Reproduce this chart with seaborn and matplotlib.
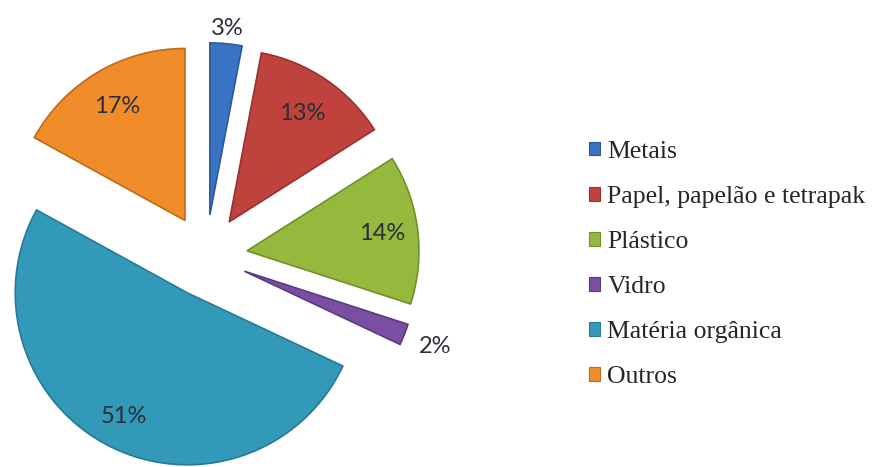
import numpy as np
import matplotlib
matplotlib.use("Agg")
import matplotlib.pyplot as plt
import seaborn as sns
from matplotlib.patches import Patch

categories = ["Metais", "Papel, papelão e tetrapak", "Plástico", "Vidro",
              "Matéria orgânica", "Outros"]
values = [3, 13, 14, 2, 51, 17]
pct_labels = ["3%", "13%", "14%", "2%", "51%", "17%"]

colors = ["#3A73C4", "#C0423D", "#94B93C", "#7A4FA3", "#3399B8", "#F08C2A"]
edge_colors = ["#2A5A9E", "#963230", "#70902A", "#5A3A80", "#257A95", "#C06A18"]
label_dist = [1.09, 0.76, 0.79, 1.19, 0.81, 0.77]

sns.set_theme(style="white")
plt.rcParams["font.family"] = ["Lato", "DejaVu Sans"]

W, H = 881, 467
fig = plt.figure(figsize=(W / 100, H / 100), dpi=100)
fig.patch.set_facecolor("white")

R = 172.0
cx, cy = 206.0, H - 256.0
ax_w = 460.0
ax = fig.add_axes([0, 0, ax_w / W, 1.0])

explode = [0.24] * len(values)
wedges, _ = ax.pie(values, colors=colors, startangle=90, counterclock=False,
                   explode=explode, radius=1.0,
                   wedgeprops=dict(linewidth=1.2))
for w, ec in zip(wedges, edge_colors):
    w.set_edgecolor(ec)

total = sum(values)
ang = 90.0
for i, v in enumerate(values):
    span = 360.0 * v / total
    mid = np.deg2rad(ang - span / 2)
    ang -= span
    ox = explode[i] * np.cos(mid)
    oy = explode[i] * np.sin(mid)
    d = label_dist[i]
    ax.text(ox + d * np.cos(mid), oy + d * np.sin(mid), pct_labels[i],
            ha="center", va="center", fontsize=17, color="#2a2f38")

ax.set_xlim(-cx / R, (ax_w - cx) / R)
ax.set_ylim(-cy / R, (H - cy) / R)
ax.set_aspect("auto")
ax.axis("off")

handles = [Patch(facecolor=c, edgecolor=e, linewidth=0.8)
           for c, e in zip(colors, edge_colors)]
leg = fig.legend(handles, categories, loc="center left",
                 bbox_to_anchor=(568 / W, 1 - 264.5 / H),
                 frameon=False, handlelength=0.45, handleheight=0.45,
                 handletextpad=0.28, labelspacing=0.9, borderpad=0.3,
                 prop={"family": "Liberation Serif", "size": 18.5})

fig.savefig("out.png", dpi=100, facecolor="white")
